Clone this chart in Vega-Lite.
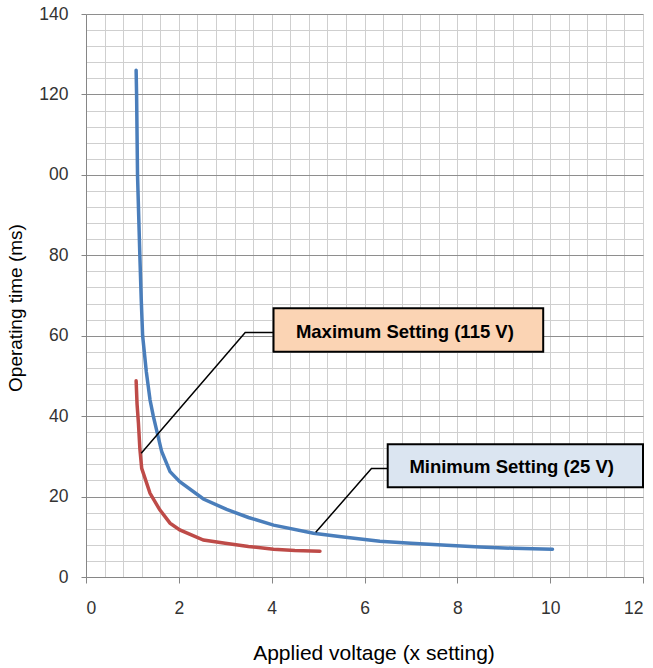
{
  "$schema": "https://vega.github.io/schema/vega-lite/v6.json",
  "width": 557,
  "height": 563,
  "autosize": {"type": "none"},
  "padding": {"left": 86, "top": 14, "right": 10, "bottom": 91},
  "background": "white",
  "config": {"view": {"stroke": null}, "font": "Liberation Sans"},
  "datasets": {
    "min_curve": [
      {"v": 1.08, "t": 126}, {"v": 1.09, "t": 120}, {"v": 1.11, "t": 100}, {"v": 1.16, "t": 80},
      {"v": 1.19, "t": 69}, {"v": 1.22, "t": 60}, {"v": 1.30, "t": 51}, {"v": 1.38, "t": 44},
      {"v": 1.45, "t": 40}, {"v": 1.63, "t": 31.2}, {"v": 1.81, "t": 26.2}, {"v": 2.02, "t": 23.7},
      {"v": 2.53, "t": 19.4}, {"v": 3.03, "t": 16.8}, {"v": 3.5, "t": 14.8}, {"v": 4.04, "t": 12.9},
      {"v": 4.9, "t": 10.9}, {"v": 5.5, "t": 10.0}, {"v": 6.33, "t": 8.9}, {"v": 7.0, "t": 8.4},
      {"v": 7.77, "t": 7.9}, {"v": 8.49, "t": 7.46}, {"v": 9.2, "t": 7.15}, {"v": 10.05, "t": 6.9}
    ],
    "max_curve": [
      {"v": 1.08, "t": 48.8}, {"v": 1.10, "t": 43}, {"v": 1.13, "t": 38.2}, {"v": 1.16, "t": 32},
      {"v": 1.2, "t": 27}, {"v": 1.38, "t": 20.8}, {"v": 1.59, "t": 16.7}, {"v": 1.81, "t": 13.4},
      {"v": 2.02, "t": 11.7}, {"v": 2.53, "t": 9.2}, {"v": 3.0, "t": 8.4}, {"v": 3.5, "t": 7.6},
      {"v": 4.04, "t": 6.9}, {"v": 4.5, "t": 6.6}, {"v": 5.04, "t": 6.4}
    ],
    "boxes": [
      {"name": "Maximum Setting (115 V)", "x1": 4.04, "x2": 9.85, "y1": 56.0, "y2": 66.8, "tx": 6.87, "ty": 61.0},
      {"name": "Minimum Setting (25 V)", "x1": 6.5, "x2": 12.0, "y1": 22.3, "y2": 33.0, "tx": 9.17, "ty": 27.4}
    ],
    "leaders": [
      {"leader": "max", "o": 1, "v": 4.04, "t": 60.8},
      {"leader": "max", "o": 2, "v": 3.43, "t": 60.8},
      {"leader": "max", "o": 3, "v": 1.19, "t": 30.8},
      {"leader": "min", "o": 1, "v": 6.5, "t": 27.0},
      {"leader": "min", "o": 2, "v": 6.15, "t": 27.0},
      {"leader": "min", "o": 3, "v": 4.95, "t": 11.1}
    ]
  },
  "layer": [
    {
      "data": {"name": "max_curve"},
      "mark": {"type": "line", "color": "#be4b48", "strokeWidth": 3.5, "strokeCap": "round"},
      "encoding": {
        "x": {"field": "v", "type": "quantitative",
          "scale": {"domain": [0, 12], "nice": false, "zero": false},
          "axis": {"orient": "top", "values": [0.4,0.8,1.2,1.6,2,2.4,2.8,3.2,3.6,4,4.4,4.8,5.2,5.6,6,6.4,6.8,7.2,7.6,8,8.4,8.8,9.2,9.6,10,10.4,10.8,11.2,11.6,12],
            "grid": true, "gridColor": "#cfcfcf", "gridWidth": 1, "domain": false, "ticks": false, "labels": false, "title": null}},
        "y": {"field": "t", "type": "quantitative",
          "scale": {"domain": [0, 140], "nice": false},
          "axis": {"orient": "right", "values": [4,8,12,16,24,28,32,36,44,48,52,56,64,68,72,76,84,88,92,96,104,108,112,116,124,128,132,136],
            "grid": true, "gridColor": "#cfcfcf", "gridWidth": 1, "domain": false, "ticks": false, "labels": false, "title": null}}
      }
    },
    {
      "data": {"name": "min_curve"},
      "mark": {"type": "line", "color": "#4a7ebb", "strokeWidth": 3.5, "strokeCap": "round"},
      "encoding": {
        "x": {"field": "v", "type": "quantitative",
          "axis": {"orient": "bottom", "values": [0,2,4,6,8,10,12], "grid": false,
            "domainColor": "#868686", "tickColor": "#868686", "tickSize": 6,
            "labelPadding": 16, "labelFontSize": 17.5, "labelColor": "#333333",
            "title": "Applied voltage (x setting)", "titleFontSize": 21, "titleFontWeight": "normal",
            "titleColor": "#000000", "titlePadding": 26, "titleX": 287.5}},
        "y": {"field": "t", "type": "quantitative",
          "axis": {"orient": "left", "values": [0,20,40,60,80,100,120,140], "grid": true,
            "gridColor": "#8e8e8e", "gridWidth": 1,
            "labelExpr": "datum.value == 100 ? '00' : datum.label",
            "domainColor": "#868686", "tickColor": "#868686", "tickSize": 5,
            "labelPadding": 13, "labelFontSize": 17.5, "labelColor": "#333333",
            "title": "Operating time (ms)", "titleFontSize": 19, "titleFontWeight": "normal",
            "titleColor": "#000000", "titlePadding": 13, "titleY": 293.5}}
      }
    },
    {
      "data": {"name": "leaders"},
      "mark": {"type": "line", "color": "#000000", "strokeWidth": 1.5},
      "encoding": {
        "x": {"field": "v", "type": "quantitative", "axis": null},
        "y": {"field": "t", "type": "quantitative", "axis": null},
        "detail": {"field": "leader"},
        "order": {"field": "o"}
      }
    },
    {
      "data": {"name": "boxes"},
      "mark": {"type": "rect", "stroke": "#000000", "strokeWidth": 2},
      "encoding": {
        "x": {"field": "x1", "type": "quantitative", "axis": null},
        "x2": {"field": "x2"},
        "y": {"field": "y1", "type": "quantitative", "axis": null},
        "y2": {"field": "y2"},
        "fill": {"field": "name", "type": "nominal",
          "scale": {"domain": ["Maximum Setting (115 V)", "Minimum Setting (25 V)"], "range": ["#fbd4b4", "#dbe5f1"]},
          "legend": null}
      }
    },
    {
      "data": {"name": "boxes"},
      "mark": {"type": "text", "fontSize": 18.5, "fontWeight": "bold", "color": "#000000", "align": "center", "baseline": "middle", "font": "Liberation Sans"},
      "encoding": {
        "x": {"field": "tx", "type": "quantitative", "axis": null},
        "y": {"field": "ty", "type": "quantitative", "axis": null},
        "text": {"field": "name"}
      }
    }
  ],
  "resolve": {"axis": {"x": "independent", "y": "independent"}}
}
